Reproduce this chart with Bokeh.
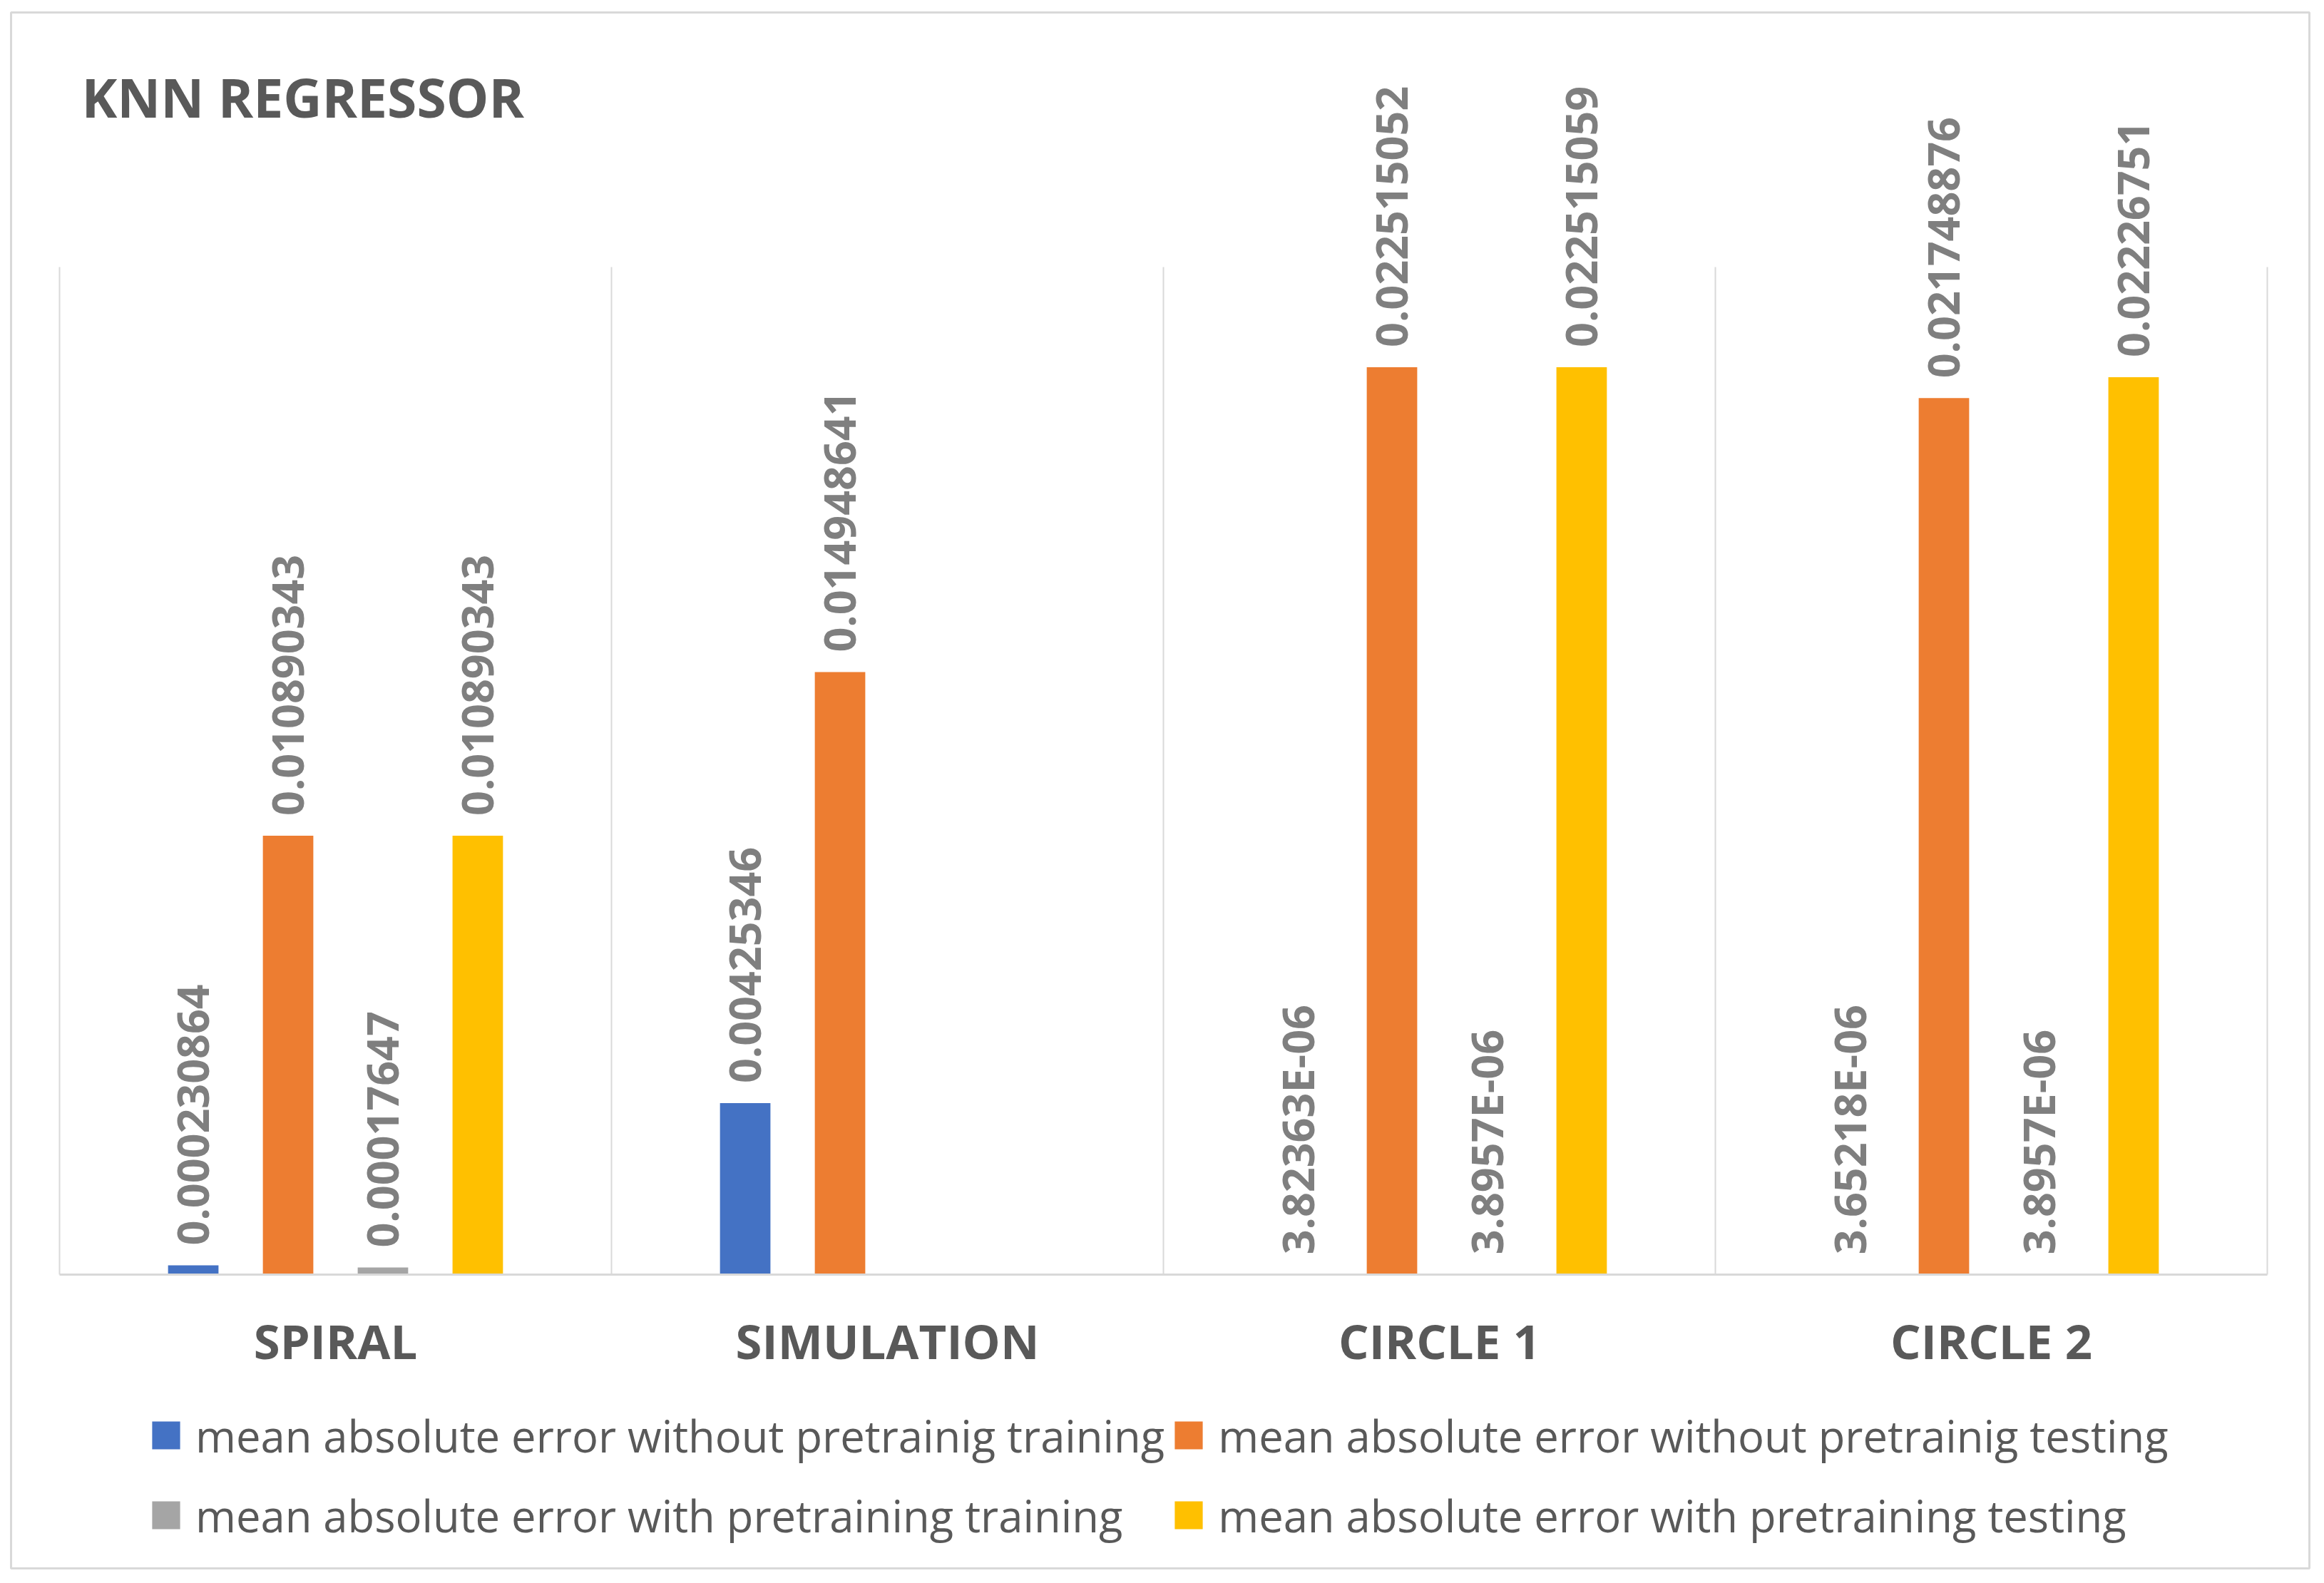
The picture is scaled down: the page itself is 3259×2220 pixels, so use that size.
import math
from bokeh.plotting import figure
from bokeh.models import (Range1d, Legend, LegendItem, ColumnDataSource, Label)
from bokeh.core.properties import value
from bokeh.embed import file_html
from bokeh.resources import INLINE

# ---------------- data ----------------
categories = ["SPIRAL", "SIMULATION", "CIRCLE 1", "CIRCLE 2"]
series_names = [
    "mean absolute error without pretrainig training",
    "mean absolute error without pretrainig testing",
    "mean absolute error with pretraining training",
    "mean absolute error with pretraining testing",
]
mae_without_training = [0.000230864, 0.00425346, 3.82363e-06, 3.65218e-06]
mae_without_testing = [0.010890343, 0.014948641, 0.022515052, 0.021748876]
mae_with_training = [0.00017647, None, 3.8957e-06, 3.8957e-06]
mae_with_testing = [0.010890343, None, 0.022515059, 0.02226751]
chart_title = "KNN REGRESSOR"
y_axis_max = 0.025

series_values = [mae_without_training, mae_without_testing,
                 mae_with_training, mae_with_testing]

# ---------------- styling / layout ----------------
colors = ["#4472C4", "#ED7D31", "#A5A5A5", "#FFC000"]
offsets = [-0.2577, -0.0859, 0.0859, 0.2577]
bar_width = 0.0914
FONT = "Open Sans"
W, H = 3243, 2204
FR_L, FR_T, FR_R, FR_B = 15, 17, 5, 5          # frame == chart border box
frame_h = H - FR_T - FR_B
CAT_PX = 774.0                                  # pixels per category
PAD_L_PX, PAD_R_PX = 68.0, 59.0
PLOT_H_PX = 1413.0                              # pixel height of 0..y_axis_max
px_per_unit = PLOT_H_PX / y_axis_max
base_from_bottom = 412.0
y_start = -base_from_bottom / px_per_unit
y_end = y_start + frame_h / px_per_unit

n_cat = len(categories)
cat_x = [i + 0.5 for i in range(n_cat)]          # category centres
edges = list(range(n_cat + 1))                  # category boundaries

p = figure(x_range=Range1d(-PAD_L_PX / CAT_PX, n_cat + PAD_R_PX / CAT_PX),
           y_range=Range1d(y_start, y_end),
           width=W, height=H, output_backend="svg", toolbar_location=None,
           x_axis_location=None, y_axis_location=None, title=None,
           min_border_left=FR_L, min_border_right=FR_R,
           min_border_top=FR_T, min_border_bottom=FR_B)
p.outline_line_color = "#d9d9d9"
p.outline_line_width = 3
p.background_fill_color = "white"
p.border_fill_color = "white"
p.grid.visible = False

grid_color = "#d9d9d9"
# vertical grid lines at category boundaries
p.segment(x0=edges, y0=0, x1=edges, y1=y_axis_max,
          line_color=grid_color, line_width=2)

renderers = []
for vals, col, off in zip(series_values, colors, offsets):
    v = [float("nan") if x is None else x for x in vals]
    xs = [c + off for c in cat_x]
    src = ColumnDataSource(dict(x=xs, val=v))
    r = p.vbar(x="x", top="val", width=bar_width, source=src,
               fill_color=col, line_color=None)
    renderers.append(r)
    lab_x = [x for x, val in zip(xs, vals) if val is not None]
    lab_vals = [val for val in vals if val is not None]
    lab_txt = [str(val).upper() for val in lab_vals]
    lsrc = ColumnDataSource(dict(x=lab_x, val=lab_vals, txt=lab_txt))
    p.text(x="x", y="val", text="txt", source=lsrc, angle=math.pi / 2,
           text_align="left", text_baseline="middle", y_offset=-28,
           text_font=value(FONT), text_font_size="61px",
           text_font_style="bold", text_color="#7f7f7f")

# x axis baseline
p.segment(x0=[edges[0]], y0=[0], x1=[edges[-1]], y1=[0],
          line_color=grid_color, line_width=3)

# category labels
csrc = ColumnDataSource(dict(x=cat_x, cat=categories))
p.text(x="x", y=0, text="cat", source=csrc, text_align="center",
       text_baseline="middle", y_offset=92, text_font=value(FONT),
       text_font_size="67px", text_font_style="bold", text_color="#595959")

# title
p.add_layout(Label(x=99, y=2064, x_units="screen", y_units="screen",
                   text=chart_title, text_align="left", text_baseline="middle",
                   text_font=FONT, text_font_size="75px",
                   text_font_style="bold", text_color="#595959"))

legend = Legend(items=[LegendItem(label=n, renderers=[r])
                       for n, r in zip(series_names, renderers)],
                orientation="horizontal", ncols=2, location=(193, 23),
                label_text_font=FONT, label_text_font_size="61.5px",
                label_text_color="#595959", glyph_width=49, glyph_height=49,
                label_standoff=17, label_height=103, spacing=9,
                padding=0, margin=0,
                border_line_color=None, background_fill_alpha=0)
p.add_layout(legend)

open("out.html", "w").write(file_html(p, INLINE))
